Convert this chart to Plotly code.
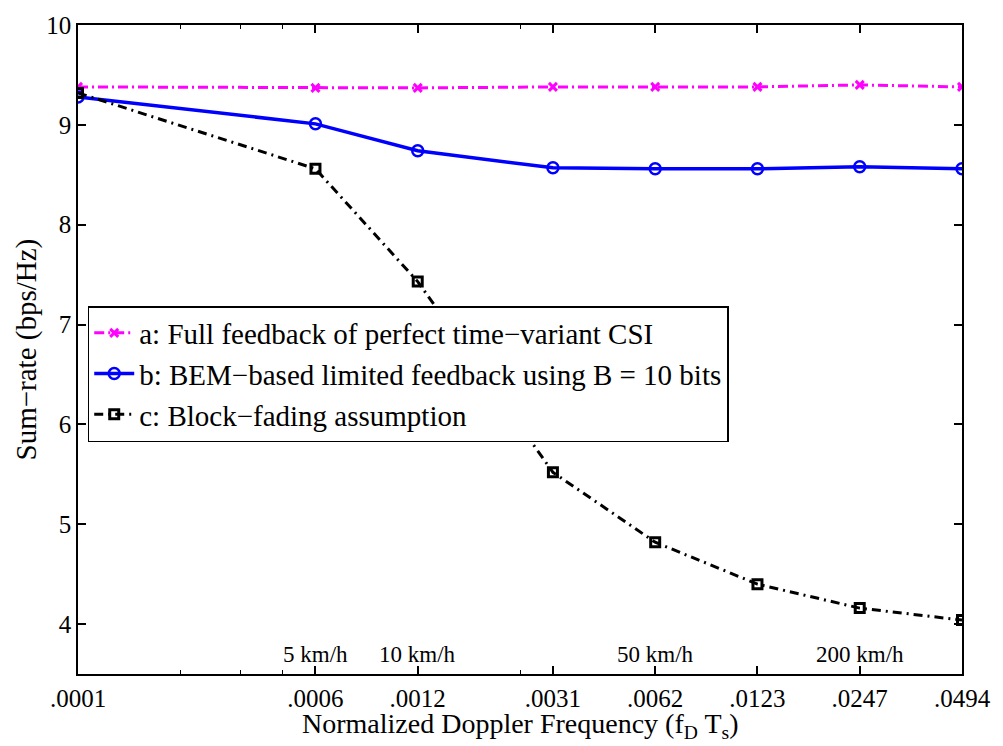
import math
import plotly.graph_objects as go

# speeds (km/h) -> normalized Doppler fD*Ts
k = 0.0494 / 400
speeds = [1, 5, 10, 25, 50, 100, 200, 400]
x_vals = [s * k for s in speeds]
tick_labels = [".0001", ".0006", ".0012", ".0031", ".0062", ".0123", ".0247", ".0494"]
minor_speeds = [2, 3, 4, 20]

full_csi = [9.38, 9.37, 9.37, 9.38, 9.38, 9.38, 9.40, 9.38]
bem_10bits = [9.28, 9.01, 8.74, 8.57, 8.56, 8.56, 8.58, 8.56]
block_fading = [9.32, 8.56, 7.43, 5.52, 4.82, 4.40, 4.16, 4.04]

names = [
    "a: Full feedback of perfect time\u2212variant CSI",
    "b: BEM\u2212based limited feedback using B = 10 bits",
    "c: Block\u2212fading assumption",
]

speed_notes = ["5 km/h", "10 km/h", "50 km/h", "200 km/h"]
speed_note_x = [5, 10, 50, 200]

x_title = "Normalized Doppler Frequency (f<sub>D</sub> T<sub>s</sub>)"
y_title = "Sum\u2212rate (bps/Hz)"

FONT = "Liberation Serif"

fig = go.Figure()
fig.add_trace(go.Scatter(
    x=x_vals, y=full_csi, name=names[0], mode="lines+markers",
    line=dict(color="#ff00ff", width=3, dash="10px,4px,2px,4px"),
    marker=dict(symbol="x-thin-open", size=8, color="#ff00ff", line=dict(color="#ff00ff", width=3)),
))
fig.add_trace(go.Scatter(
    x=x_vals, y=bem_10bits, name=names[1], mode="lines+markers",
    line=dict(color="#0000ff", width=3.5),
    marker=dict(symbol="circle-open", size=11, color="#0000ff", line=dict(color="#0000ff", width=2.5)),
))
fig.add_trace(go.Scatter(
    x=x_vals, y=block_fading, name=names[2], mode="lines+markers",
    line=dict(color="#000000", width=3, dash="9px,5px,2px,5px"),
    marker=dict(symbol="square-open", size=9, color="#000000", line=dict(color="#000000", width=3)),
))

for s, t in zip(speed_note_x, speed_notes):
    fig.add_annotation(x=math.log10(s * k), y=3.55, xref="x", yref="y", text=t, showarrow=False,
                       yanchor="bottom", xanchor="center",
                       font=dict(family=FONT, size=23, color="black"))

fig.add_annotation(x=0.5, y=0, xref="paper", yref="paper", yshift=-51, text=x_title,
                   showarrow=False, xanchor="center", yanchor="middle",
                   font=dict(family=FONT, size=28, color="black"))
fig.add_annotation(x=0, y=0.5, xref="paper", yref="paper", xshift=-52, text=y_title,
                   showarrow=False, xanchor="center", yanchor="middle", textangle=-90,
                   font=dict(family=FONT, size=29, color="black"))

fig.update_layout(
    width=1003, height=746,
    margin=dict(l=78, r=33, t=20, b=72),
    paper_bgcolor="white", plot_bgcolor="white",
    font=dict(family=FONT, size=24, color="black"),
    legend=dict(x=0.011, y=0.567, xanchor="left", yanchor="top",
                bgcolor="white", bordercolor="black", borderwidth=1.5,
                font=dict(family=FONT, size=29, color="black"),
                itemwidth=40, tracegroupgap=0),
    showlegend=True,
)
fig.update_xaxes(
    type="log", range=[math.log10(x_vals[0]), math.log10(x_vals[-1])],
    tickvals=x_vals, ticktext=tick_labels, ticks="inside", ticklen=8, tickwidth=1.5,
    tickcolor="black", showline=True, linecolor="black", linewidth=2, mirror="ticks",
    showgrid=False, zeroline=False, ticklabelstandoff=1,
    tickfont=dict(family=FONT, size=25),
    minor=dict(tickvals=[s * k for s in minor_speeds], ticks="inside", ticklen=4,
               tickcolor="black", tickwidth=1, showgrid=False),
)
fig.update_yaxes(
    range=[3.5, 10], tickvals=[4, 5, 6, 7, 8, 9, 10], ticks="inside", ticklen=8, tickwidth=1.5,
    tickcolor="black", showline=True, linecolor="black", linewidth=1.5, mirror="ticks",
    showgrid=False, zeroline=False,
    tickfont=dict(family=FONT, size=25),
)

fig.write_html("out.html", config={"displayModeBar": False},
               post_script="document.body.style.margin='0px';")
